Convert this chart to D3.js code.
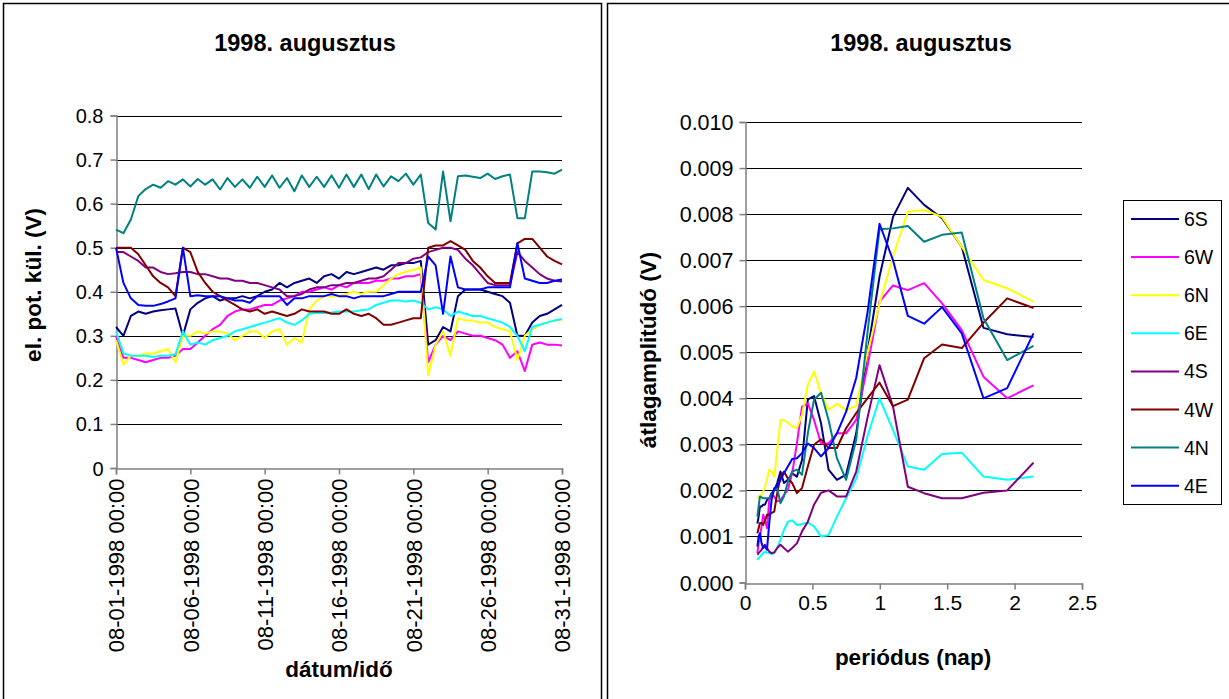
<!DOCTYPE html>
<html><head><meta charset="utf-8">
<script src="https://cdn.jsdelivr.net/npm/d3@7/dist/d3.min.js"></script>
<style>
body{margin:0;background:#fff}
svg{display:block}
text{font-family:"Liberation Sans",Arial,Helvetica,sans-serif;fill:#000}
</style>
</head><body>
<svg id="chart" width="1229" height="699"></svg>
<script>
// ---------- shared ----------
const seriesNames  = ["6S","6W","6N","6E","4S","4W","4N","4E"];
const seriesColors = ["#000080","#FF00FF","#FFFF00","#00FFFF","#800080","#800000","#008080","#0000FF"];
const chartTitle = "1998. augusztus";

// ---------- left chart: potential difference vs time (one sample per half day) ----------
const sampleStepDays = 0.5;
const dateTickDays   = [0,5,10,15,20,25,30];
const dateTickLabels = ["08-01-1998 00:00","08-06-1998 00:00","08-11-1998 00:00","08-16-1998 00:00","08-21-1998 00:00","08-26-1998 00:00","08-31-1998 00:00"];
const potTicks = [0,0.1,0.2,0.3,0.4,0.5,0.6,0.7,0.8];

const pot6S = [.32,.30,.345,.355,.35,.355,.358,.36,.362,.30,.36,.375,.385,.39,.38,.385,.385,.39,.385,.39,.40,.405,.42,.41,.42,.425,.43,.42,.435,.44,.43,.445,.44,.445,.45,.455,.45,.46,.46,.465,.465,.47,.28,.29,.32,.31,.39,.405,.405,.405,.40,.395,.39,.375,.30,.30,.33,.345,.35,.36,.37];
const pot6W = [.30,.25,.25,.245,.24,.245,.25,.25,.255,.27,.27,.285,.30,.315,.325,.345,.355,.36,.36,.365,.37,.37,.38,.385,.39,.40,.40,.405,.41,.405,.415,.41,.42,.42,.42,.425,.425,.43,.43,.435,.435,.44,.24,.28,.30,.29,.31,.305,.30,.30,.295,.29,.28,.25,.265,.22,.28,.285,.28,.28,.278];
const pot6N = [.29,.235,.255,.255,.26,.26,.265,.27,.24,.30,.30,.31,.305,.31,.31,.305,.29,.30,.31,.31,.295,.31,.315,.28,.295,.285,.36,.38,.39,.39,.39,.395,.40,.395,.40,.40,.415,.43,.44,.445,.45,.455,.21,.28,.31,.255,.34,.335,.335,.33,.33,.32,.315,.31,.245,.30,.315,.325,.33,.335,.336];
const pot6E = [.31,.26,.255,.255,.255,.252,.255,.255,.258,.31,.28,.285,.28,.29,.295,.30,.31,.315,.32,.325,.33,.335,.34,.33,.325,.335,.35,.352,.352,.353,.355,.355,.355,.358,.36,.37,.375,.38,.38,.378,.38,.375,.36,.365,.36,.345,.355,.35,.345,.345,.34,.335,.33,.32,.30,.265,.32,.325,.33,.335,.338];
const pot4S = [.49,.49,.48,.47,.455,.455,.445,.44,.442,.445,.445,.44,.44,.435,.43,.43,.425,.425,.42,.42,.415,.41,.405,.39,.39,.395,.405,.41,.41,.415,.415,.42,.42,.425,.43,.43,.435,.45,.465,.465,.475,.478,.49,.495,.50,.50,.495,.475,.46,.44,.42,.415,.415,.415,.49,.47,.455,.44,.43,.425,.423];
const pot4W = [.50,.50,.50,.485,.46,.435,.42,.41,.39,.50,.49,.445,.42,.40,.39,.38,.37,.36,.355,.36,.35,.355,.35,.345,.35,.36,.355,.355,.355,.35,.35,.36,.35,.345,.35,.34,.325,.325,.33,.335,.34,.34,.50,.505,.505,.515,.505,.495,.47,.455,.435,.42,.42,.42,.51,.52,.52,.50,.48,.47,.462];
const pot4N = [.541,.533,.564,.617,.633,.643,.636,.651,.643,.655,.639,.656,.643,.655,.632,.658,.638,.655,.636,.661,.638,.664,.636,.658,.628,.664,.638,.661,.638,.664,.636,.666,.638,.666,.633,.666,.639,.662,.651,.668,.643,.666,.556,.541,.673,.560,.662,.664,.661,.658,.668,.656,.662,.666,.567,.567,.673,.673,.671,.668,.677];
const pot4E = [.50,.42,.385,.37,.368,.368,.372,.378,.385,.50,.39,.392,.39,.39,.39,.385,.38,.38,.375,.39,.39,.39,.39,.37,.385,.385,.39,.39,.39,.395,.39,.39,.385,.39,.39,.39,.39,.395,.40,.40,.40,.40,.48,.46,.35,.48,.41,.405,.405,.405,.41,.41,.41,.41,.51,.43,.425,.42,.42,.425,.428];
const potSeries = [pot6S,pot6W,pot6N,pot6E,pot4S,pot4W,pot4N,pot4E];

// ---------- right chart: mean amplitude vs period ----------
const periods = [0.092,0.101,0.111,0.123,0.135,0.148,0.163,0.180,0.197,0.217,0.239,0.263,0.289,0.318,0.350,0.385,0.423,0.466,0.512,0.564,0.620,0.682,0.750,0.825,0.908,0.998,1.098,1.208,1.329,1.462,1.608,1.769,1.945,2.140];
const periodTicks = [0,0.5,1,1.5,2,2.5];
const ampTicks = [0,0.001,0.002,0.003,0.004,0.005,0.006,0.007,0.008,0.009,0.010];

const amp6S = [.00128,.00143,.00165,.00165,.00169,.00169,.00179,.00183,.00194,.00200,.00216,.00241,.00216,.00223,.00237,.00230,.00266,.00397,.00405,.00346,.00245,.00223,.00234,.00324,.00498,.00664,.00794,.00857,.00820,.00791,.00729,.00553,.00539,.00533];
const amp6W = [.00064,.00085,.00100,.00122,.00147,.00136,.00118,.00179,.00190,.00187,.00176,.00179,.00190,.00201,.00237,.00302,.00382,.00389,.00353,.00302,.00302,.00324,.00324,.00353,.00469,.00610,.00645,.00635,.00650,.00606,.00548,.00447,.00400,.00428];
const amp6N = [.00187,.00183,.00187,.00190,.00197,.00208,.00223,.00245,.00241,.00230,.00288,.00353,.00353,.00347,.00339,.00335,.00364,.00429,.00458,.00411,.00375,.00388,.00375,.00383,.00498,.00606,.00708,.00805,.00809,.00794,.00729,.00657,.00639,.00610];
const amp6E = [.00049,.00053,.00056,.00060,.00064,.00067,.00065,.00064,.00062,.00064,.00075,.00093,.00114,.00132,.00135,.00125,.00127,.00130,.00122,.00100,.00103,.00143,.00183,.00226,.00317,.00400,.00331,.00252,.00245,.00279,.00282,.00230,.00223,.00230];
const amp4S = [.00060,.00064,.00067,.00071,.00078,.00082,.00075,.00067,.00064,.00065,.00075,.00082,.00075,.00067,.00075,.00085,.00111,.00132,.00169,.00195,.00200,.00187,.00187,.00241,.00357,.00472,.00382,.00208,.00194,.00183,.00183,.00195,.00200,.00260];
const amp4W = [.00107,.00118,.00129,.00129,.00125,.00135,.00147,.00147,.00151,.00154,.00194,.00230,.00241,.00226,.00216,.00194,.00205,.00252,.00299,.00311,.00292,.00292,.00335,.00368,.00400,.00434,.00383,.00397,.00487,.00517,.00509,.00564,.00617,.00596];
const amp4N = [.00143,.00165,.00187,.00185,.00183,.00183,.00183,.00183,.00190,.00201,.00205,.00172,.00187,.00219,.00241,.00245,.00234,.00324,.00397,.00412,.00353,.00270,.00223,.00310,.00541,.00767,.00769,.00774,.00740,.00755,.00760,.00574,.00483,.00514];
const amp4E = [.00078,.00100,.00107,.00085,.00075,.00078,.00071,.00129,.00179,.00205,.00208,.00223,.00237,.00252,.00268,.00270,.00281,.00302,.00292,.00274,.00292,.00324,.00371,.00444,.00585,.00779,.00700,.00579,.00562,.00598,.00541,.00400,.00422,.00541];
const ampSeries = [amp6S,amp6W,amp6N,amp6E,amp4S,amp4W,amp4N,amp4E];

// ---------- drawing ----------
const svg = d3.select("#chart");
const FONT = "Liberation Sans, Arial, sans-serif";

// panel frames
svg.append("rect").attr("x",3.5).attr("y",3.5).attr("width",598).attr("height",705)
  .attr("fill","none").attr("stroke","#000").attr("stroke-width",1.5);
svg.append("rect").attr("x",607.5).attr("y",3.5).attr("width",625).attr("height",705)
  .attr("fill","none").attr("stroke","#000").attr("stroke-width",1.5);

function label(g, x, y, txt, size, opts={}) {
  return g.append("text")
    .attr("transform", `translate(${x},${y})` + (opts.rotate ? ` rotate(${opts.rotate})` : ""))
    .attr("font-size", size)
    .attr("font-weight", opts.bold ? "bold" : "normal")
    .attr("text-anchor", opts.anchor || "middle")
    .text(txt);
}

function styleAxis(a){
  a.select(".domain").attr("stroke","#808080").attr("stroke-width",1.5);
  a.selectAll(".tick line").attr("stroke","#808080").attr("stroke-width",1.5);
  a.selectAll("text").attr("fill","#000").attr("font-family",FONT);
}

// ===== left chart =====
const xL = d3.scaleLinear().domain([0,30]).range([116,562]);
const yL = d3.scaleLinear().domain([0,0.8]).range([468,115.5]);
const gL = svg.append("g");

gL.selectAll("line.grid").data(potTicks.filter(d=>d>0)).join("line")
  .attr("x1",xL(0)).attr("x2",xL(30)).attr("y1",d=>Math.round(yL(d))+0.5).attr("y2",d=>Math.round(yL(d))+0.5)
  .attr("stroke","#000").attr("stroke-width",1);

const axYL = gL.append("g").attr("transform",`translate(${xL(0)+0.5},0)`)
  .call(d3.axisLeft(yL).tickValues(potTicks).tickSize(6).tickFormat(d=>d===0?"0":d3.format(".1f")(d)));
const axXL = gL.append("g").attr("transform",`translate(0,${Math.round(yL(0))+0.5})`)
  .call(d3.axisBottom(xL).tickValues(dateTickDays).tickSize(6).tickFormat((d,i)=>dateTickLabels[i]));
styleAxis(axYL); styleAxis(axXL);
axYL.selectAll(".tick text").attr("font-size",20).attr("x",-13).attr("dy","0.35em");
axXL.selectAll(".tick text").attr("font-size",22).attr("y",0).attr("dy","0.35em")
  .attr("text-anchor","end")
  .attr("transform","translate(0,10) rotate(-90)");

const lineL = d3.line().x((d,i)=>xL(i*sampleStepDays)).y(d=>yL(d));
potSeries.forEach((s,k)=>{
  gL.append("path").datum(s).attr("d",lineL).attr("fill","none")
    .attr("stroke",seriesColors[k]).attr("stroke-width",2).attr("stroke-linejoin","round");
});

label(gL, 305, 51, chartTitle, 23.5, {bold:true});
label(gL, 41, 285, "el. pot. kül. (V)", 22.5, {bold:true, rotate:-90});
label(gL, 339, 677, "dátum/idő", 22.5, {bold:true});

// ===== right chart =====
const xR = d3.scaleLinear().domain([0,2.5]).range([745,1082]);
const yR = d3.scaleLinear().domain([0,0.010]).range([582.5,122]);
const gR = svg.append("g");

gR.selectAll("line.grid").data(ampTicks.filter(d=>d>0)).join("line")
  .attr("x1",xR(0)).attr("x2",xR(2.5)).attr("y1",d=>Math.round(yR(d))+0.5).attr("y2",d=>Math.round(yR(d))+0.5)
  .attr("stroke","#000").attr("stroke-width",1);

const axYR = gR.append("g").attr("transform",`translate(${xR(0)+0.5},0)`)
  .call(d3.axisLeft(yR).tickValues(ampTicks).tickSize(6).tickFormat(d3.format(".3f")));
const axXR = gR.append("g").attr("transform",`translate(0,${Math.round(yR(0))+0.5})`)
  .call(d3.axisBottom(xR).tickValues(periodTicks).tickSize(6).tickFormat(d=>String(d)));
styleAxis(axYR); styleAxis(axXR);
axYR.selectAll(".tick text").attr("font-size",21.5).attr("x",-12).attr("dy","0.35em");
axXR.selectAll(".tick text").attr("font-size",21).attr("y",12).attr("dy","0.71em");

const lineR = d3.line().x((d,i)=>xR(periods[i])).y(d=>yR(d));
ampSeries.forEach((s,k)=>{
  gR.append("path").datum(s).attr("d",lineR).attr("fill","none")
    .attr("stroke",seriesColors[k]).attr("stroke-width",2).attr("stroke-linejoin","round");
});

label(gR, 921, 51, chartTitle, 23.5, {bold:true});
label(gR, 656, 350, "átlagamplitúdó (V)", 22.5, {bold:true, rotate:-90});
label(gR, 913, 665, "periódus (nap)", 22.5, {bold:true});

// legend
const lg = gR.append("g");
lg.append("rect").attr("x",1123.5).attr("y",200.5).attr("width",98).attr("height",304)
  .attr("fill","#fff").attr("stroke","#000").attr("stroke-width",1);
seriesNames.forEach((n,k)=>{
  const y = 219 + k*38.1;
  lg.append("line").attr("x1",1131).attr("x2",1179).attr("y1",y).attr("y2",y)
    .attr("stroke",seriesColors[k]).attr("stroke-width",2);
  label(lg, 1184, y+7, n, 19.5, {anchor:"start"});
});
</script>
</body></html>
